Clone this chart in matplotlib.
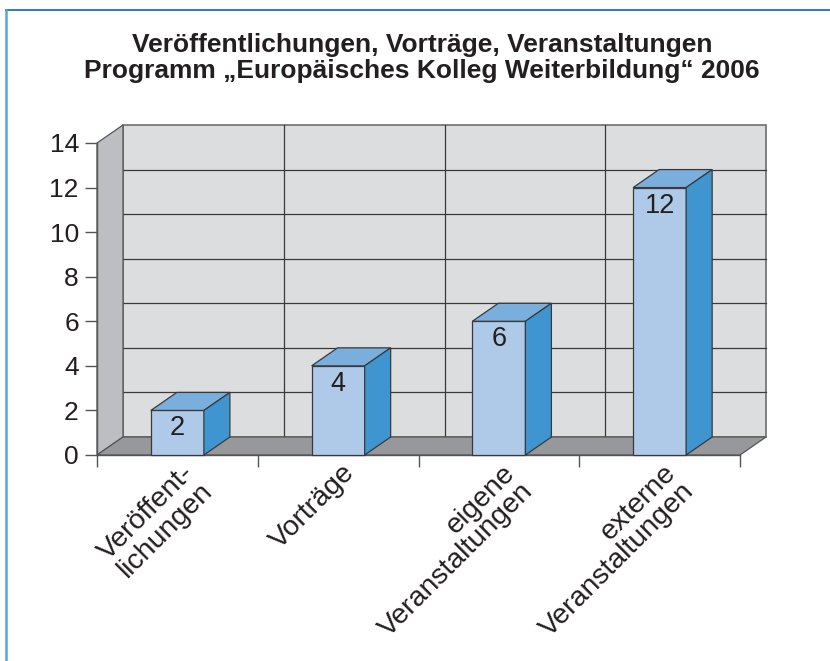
import matplotlib
matplotlib.use("Agg")
import matplotlib.pyplot as plt
from matplotlib.patches import Polygon
from matplotlib.lines import Line2D

plt.rcParams['font.family'] = ['Liberation Sans', 'DejaVu Sans']

# data
categories = ["Veröffent-\nlichungen", "Vorträge", "eigene\nVeranstaltungen", "externe\nVeranstaltungen"]
values = [2, 4, 6, 12]
yticks = [0, 2, 4, 6, 8, 10, 12, 14]
title = "Veröffentlichungen, Vorträge, Veranstaltungen\nProgramm „Europäisches Kolleg Weiterbildung“ 2006"

W, H = 830, 661
fig = plt.figure(figsize=(W / 100, H / 100), dpi=100)

# front plane of the pseudo 3d box, in pixels
x0, x1, y0, y1 = 97, 740, 455, 143
ax = fig.add_axes([x0 / W, 1 - y0 / H, (x1 - x0) / W, (y0 - y1) / H])
n = len(categories)
ymax = yticks[-1]
ax.set_xlim(0, n)
ax.set_ylim(0, ymax)

# depth offset (26 px right, 18 px up) in data units
ddx = 26 / ((x1 - x0) / n)
ddy = 18 / ((y0 - y1) / ymax)

wall_c = "#dcdddf"
side_c = "#bdbec1"
floor_c = "#97989b"
edge_c = "#3a3a3a"
txt_c = "#231f20"

def poly(pts, fc, z, ec=edge_c, lw=0.9):
    p = Polygon(pts, closed=True, facecolor=fc, edgecolor=ec, linewidth=lw,
                zorder=z, clip_on=False, joinstyle="miter")
    ax.add_patch(p)

# back wall
poly([(ddx, ddy), (n + ddx, ddy), (n + ddx, ymax + ddy), (ddx, ymax + ddy)], wall_c, 1, ec="#6e6e6e", lw=1.2)
for v in yticks[1:-1]:
    ax.add_line(Line2D([ddx, n + ddx], [v + ddy, v + ddy], color=edge_c, lw=0.9, zorder=2, clip_on=False))
for k in range(1, n):
    ax.add_line(Line2D([k + ddx, k + ddx], [ddy, ymax + ddy], color=edge_c, lw=0.9, zorder=2, clip_on=False))
# left wall and floor
poly([(0, 0), (ddx, ddy), (ddx, ymax + ddy), (0, ymax)], side_c, 3, ec="#555555")
poly([(0, 0), (n, 0), (n + ddx, ddy), (ddx, ddy)], floor_c, 3, ec="#555555")

# bars
bw = 0.33
for i, v in enumerate(values):
    xl = i + 0.5 - bw / 2
    xr = xl + bw
    poly([(xl, 0), (xr, 0), (xr, v), (xl, v)], "#aecae8", 5)
    poly([(xl, v), (xr, v), (xr + ddx, v + ddy), (xl + ddx, v + ddy)], "#7aaedd", 5)
    poly([(xr, 0), (xr + ddx, ddy), (xr + ddx, v + ddy), (xr, v)], "#3f95d0", 5)
    ax.annotate(str(v), xy=(i + 0.5, v), xytext=(0, -5), textcoords="offset pixels",
                ha="center", va="top", fontsize=19.5, color=txt_c, zorder=6)

# axes styling
for s in ["top", "right"]:
    ax.spines[s].set_visible(False)
for s in ["left", "bottom"]:
    ax.spines[s].set_color("#555555")
    ax.spines[s].set_linewidth(1.0)
    ax.spines[s].set_zorder(4)
ax.patch.set_visible(False)
ax.set_yticks(yticks)
ax.tick_params(axis="y", length=8.6, width=1.0, color="#555555", labelsize=19, pad=4.5, labelcolor=txt_c)
ax.set_xticks([k for k in range(n + 1)])
ax.set_xticklabels([])
ax.tick_params(axis="x", length=8.6, width=1.0, color="#555555")
for i, c in enumerate(categories):
    ax.annotate(c, xy=(i + 0.5, 0), xytext=(3, -5), textcoords="offset pixels",
                rotation=45, ha="right", va="top", rotation_mode="anchor", ma="right",
                fontsize=20.5, color=txt_c, linespacing=1.0, annotation_clip=False)

fig.text(422 / W, 1 - 58 / H, title, ha="center", va="center", fontsize=19,
         weight="bold", linespacing=1.15, color=txt_c)

# frame lines of the page
fig.add_artist(Line2D([6 / W, 1], [1 - 9.5 / H, 1 - 9.5 / H], transform=fig.transFigure, color="#2c7cc1", lw=1.4))
fig.add_artist(Line2D([6 / W, 6 / W], [0, 1 - 9.5 / H], transform=fig.transFigure, color="#55a6de", lw=1.8))

fig.savefig("out.png", dpi=100)
